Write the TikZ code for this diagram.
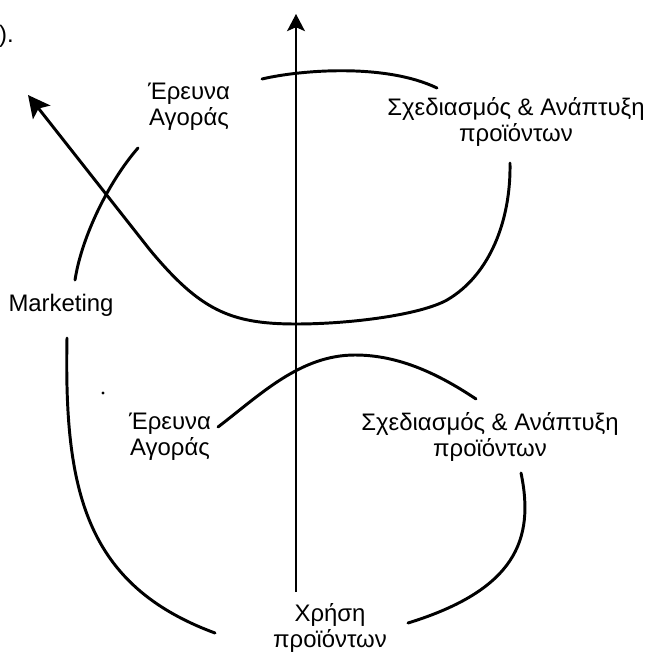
\documentclass[tikz,border=0pt]{standalone}
\usepackage{fontspec}
\setmainfont{Liberation Sans}
\usepackage{tikz}
\usetikzlibrary{arrows.meta}
\tikzset{
  label/.style={align=center, inner sep=0pt, font=\fontsize{17}{18.3}\selectfont},
  curve/.style={line width=2.1pt, line cap=round},
  axis/.style={line width=0.9pt, -{Stealth[length=0.43cm, width=0.45cm, inset=0.1cm]}},
  bigarrow/.style={curve, -{Stealth[length=0.55cm, width=0.55cm, inset=0.12cm]}}
}
\begin{document}
\begin{tikzpicture}[x=0.025cm, y=-0.025cm]
  \useasboundingbox (0,0) rectangle (644,656);

  \node[label, anchor=base east] (cut) at (14,43) {).};
  \node[label] (er1) at (189,107) {Έρευνα\\Αγοράς};
  \node[label] (sx1) at (516,122) {Σχεδιασμός \& Ανάπτυξη\\προϊόντων};
  \node[label] (mkt) at (61,305) {Marketing};
  \node[label] (er2) at (170,437) {Έρευνα\\Αγοράς};
  \node[label] (sx2) at (490,437) {Σχεδιασμός \& Ανάπτυξη\\προϊόντων};
  \node[label] (use) at (330,628) {Χρήση\\προϊόντων};

  \draw[axis] (296,592) -- (296,14);

  \draw[curve] (75,280) .. controls (82,235) and (110,180) .. (138,148);
  \draw[bigarrow] (510,163) .. controls (511,220) and (490,275) .. (447,300)
    .. controls (420,315) and (350,324) .. (296,324)
    .. controls (230,324) and (200,310) .. (150,250) -- (28,95);
  \draw[curve] (262,79) .. controls (300,70) and (385,63) .. (437,88);
  \draw[curve] (218,427) .. controls (260,395) and (300,355) .. (355,355)
    .. controls (400,355) and (440,375) .. (476,399);
  \draw[curve] (67,338) .. controls (64,490) and (85,585) .. (215,633);
  \draw[curve] (521,473) .. controls (535,540) and (515,590) .. (408,623);

  \fill (103,393) circle (1.2pt);
\end{tikzpicture}
\end{document}
